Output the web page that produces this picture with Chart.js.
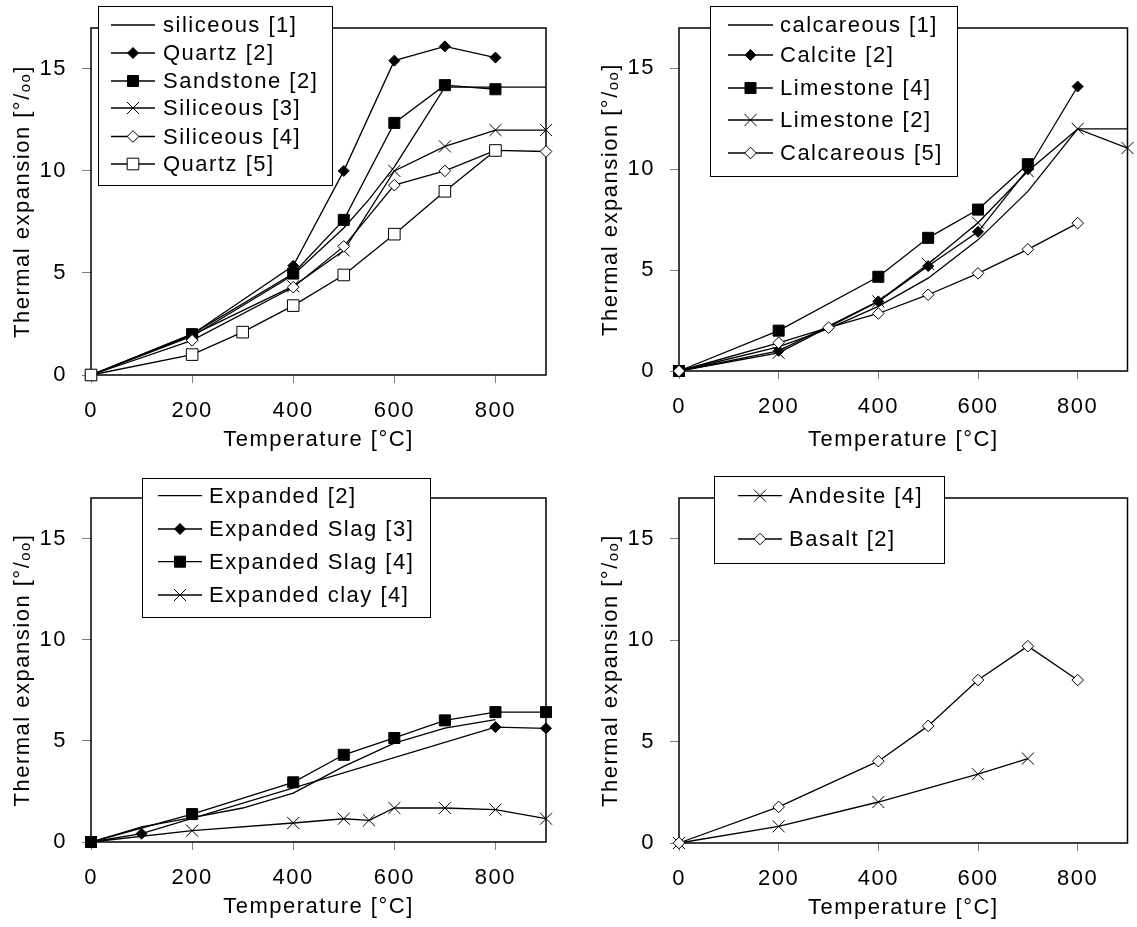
<!DOCTYPE html>
<html>
<head>
<meta charset="utf-8">
<script src="https://cdn.jsdelivr.net/npm/chart.js@4.4.4/dist/chart.umd.min.js"></script>
<style>
  body { margin: 0; background: #fff; }
  #sheet { position: relative; width: 1137px; height: 927px; overflow: hidden; background: #fff; }
  #sheet canvas { position: absolute; }
</style>
</head>
<body>
<div id="sheet">
  <canvas id="siliceous" width="568" height="465" style="left:0;top:0"></canvas>
  <canvas id="calcareous" width="569" height="465" style="left:568px;top:0"></canvas>
  <canvas id="expanded" width="568" height="462" style="left:0;top:465px"></canvas>
  <canvas id="volcanic" width="569" height="462" style="left:568px;top:465px"></canvas>
</div>
<script>
// axis ticks shared by all four panels
const tempTicks = [0, 200, 400, 600, 800];
const expTicks = [0, 5, 10, 15];

// siliceous aggregates
const siliceous1T = [0, 200, 400, 500, 550, 600, 700, 900];
const siliceous1V = [0, 1.9, 4.9, 7.2, 8.6, 10.2, 14.1, 14.1];
const quartz2T = [0, 200, 400, 500, 600, 700, 800];
const quartz2V = [0, 2.0, 5.35, 10.0, 15.4, 16.1, 15.55];
const sandstone2T = [0, 200, 400, 500, 600, 700, 800];
const sandstone2V = [0, 2.0, 4.97, 7.6, 12.35, 14.2, 14.0];
const siliceous3T = [0, 200, 400, 500, 600, 700, 800, 900];
const siliceous3V = [0, 1.95, 4.35, 6.1, 10.0, 11.2, 12.0, 12.0];
const siliceous4T = [0, 200, 400, 500, 600, 700, 800, 900];
const siliceous4V = [0, 1.7, 4.3, 6.3, 9.3, 10.0, 11.0, 10.95];
const quartz5T = [0, 200, 300, 400, 500, 600, 700, 800];
const quartz5V = [0, 1.0, 2.1, 3.4, 4.9, 6.9, 9.0, 11.0];

// calcareous aggregates
const calcareous1T = [0, 200, 300, 400, 500, 600, 700, 800, 900];
const calcareous1V = [0, 1.2, 2.1, 3.2, 4.6, 6.5, 8.9, 12.0, 12.0];
const calcite2T = [0, 200, 400, 500, 600, 700, 800];
const calcite2V = [0, 1.0, 3.45, 5.2, 6.9, 10.0, 14.1];
const limestone4T = [0, 200, 400, 500, 600, 700];
const limestone4V = [0, 2.0, 4.67, 6.6, 8.0, 10.25];
const limestone2T = [0, 200, 400, 500, 600, 700, 800, 900];
const limestone2V = [0, 0.9, 3.45, 5.3, 7.35, 9.9, 12.0, 11.05];
const calcareous5T = [0, 200, 300, 400, 500, 600, 700, 800];
const calcareous5V = [0, 1.4, 2.15, 2.85, 3.78, 4.84, 6.03, 7.33];

// lightweight aggregates
const expanded2T = [0, 100, 200, 300, 400, 500, 600, 700, 800];
const expanded2V = [0, 0.75, 1.2, 1.68, 2.42, 3.74, 4.89, 5.63, 6.05];
const slag3T = [0, 100, 800, 900];
const slag3V = [0, 0.41, 5.68, 5.62];
const slag4T = [0, 200, 400, 500, 600, 700, 800, 900];
const slag4V = [0, 1.38, 2.95, 4.31, 5.14, 6.01, 6.42, 6.42];
const clay4T = [0, 200, 400, 500, 550, 600, 700, 800, 900];
const clay4V = [0, 0.56, 0.94, 1.15, 1.07, 1.68, 1.68, 1.6, 1.15];

// volcanic rocks
const andesite4T = [0, 200, 400, 600, 700];
const andesite4V = [0, 0.82, 2.02, 3.39, 4.16];
const basalt2T = [0, 200, 400, 500, 600, 700, 800];
const basalt2V = [0, 1.78, 4.03, 5.77, 8.03, 9.7, 8.03];

const FONT = { family: '"Liberation Sans", Arial, sans-serif', size: 22 };
const SPACING = '1.5px';

// marker looks, Excel style
const MARKS = {
  line:        { style: false,      r: 0,   fill: '#000' },
  diamond:     { style: 'rectRot',  r: 5.5, fill: '#000' },
  square:      { style: 'rect',     r: 7.8, fill: '#000' },
  cross:       { style: 'crossRot', r: 8.5, fill: '#000' },
  diamondOpen: { style: 'rectRot',  r: 5.8, fill: '#fff' },
  squareOpen:  { style: 'rect',     r: 8.2, fill: '#fff' }
};

function series(label, temps, vals, mark) {
  const m = MARKS[mark];
  return {
    label,
    mark,
    data: temps.map((t, i) => ({ x: t, y: vals[i] })),
    borderColor: '#000',
    borderWidth: 1.3,
    pointStyle: m.style,
    pointRadius: m.r,
    pointBackgroundColor: m.fill,
    pointBorderColor: '#000',
    pointBorderWidth: 1,
    tension: 0,
    clip: false
  };
}

function drawMarker(ctx, mark, x, y) {
  const m = MARKS[mark];
  if (!m.style) return;
  const s = m.r * Math.SQRT1_2;
  ctx.save();
  ctx.fillStyle = m.fill;
  ctx.strokeStyle = '#000';
  ctx.lineWidth = 1;
  ctx.beginPath();
  if (m.style === 'rectRot') {
    ctx.moveTo(x - m.r, y);
    ctx.lineTo(x, y - m.r);
    ctx.lineTo(x + m.r, y);
    ctx.lineTo(x, y + m.r);
    ctx.closePath();
    ctx.fill();
    ctx.stroke();
  } else if (m.style === 'rect') {
    ctx.rect(x - s, y - s, 2 * s, 2 * s);
    ctx.fill();
    ctx.stroke();
  } else {
    ctx.moveTo(x - s, y - s);
    ctx.lineTo(x + s, y + s);
    ctx.moveTo(x + s, y - s);
    ctx.lineTo(x - s, y + s);
    ctx.stroke();
  }
  ctx.restore();
}

// wider tracking of the old plot font
const spacingPlugin = {
  id: 'spacing',
  beforeUpdate(chart) { chart.ctx.letterSpacing = SPACING; },
  beforeDraw(chart) { chart.ctx.letterSpacing = SPACING; }
};

// closed frame around the plot area
const framePlugin = {
  id: 'frame',
  beforeDatasetsDraw(chart) {
    const { ctx, chartArea: a } = chart;
    ctx.save();
    ctx.strokeStyle = '#000';
    ctx.lineWidth = 1.5;
    ctx.strokeRect(a.left, a.top, a.right - a.left, a.bottom - a.top);
    ctx.restore();
  }
};

// boxed legend drawn over the top edge of the frame
function legendPlugin(box) {
  return {
    id: 'boxLegend',
    afterDraw(chart) {
      const ctx = chart.ctx;
      ctx.save();
      ctx.fillStyle = '#fff';
      ctx.fillRect(box.x, box.y, box.w, box.h);
      ctx.strokeStyle = '#000';
      ctx.lineWidth = 1;
      ctx.strokeRect(box.x + 0.5, box.y + 0.5, box.w, box.h);
      ctx.font = FONT.size + 'px ' + FONT.family;
      ctx.letterSpacing = SPACING;
      ctx.textBaseline = 'middle';
      ctx.textAlign = 'left';
      chart.data.datasets.forEach((ds, i) => {
        const y = box.rows[i];
        ctx.strokeStyle = '#000';
        ctx.lineWidth = 1.3;
        ctx.beginPath();
        ctx.moveTo(box.lineX0, y);
        ctx.lineTo(box.lineX1, y);
        ctx.stroke();
        drawMarker(ctx, ds.mark, (box.lineX0 + box.lineX1) / 2, y);
        ctx.fillStyle = '#000';
        ctx.fillText(ds.label, box.textX, y + 1);
      });
      ctx.restore();
    }
  };
}

function makePanel(id, geom, datasets, box) {
  const n = datasets.length;
  datasets.forEach((ds, i) => { ds.order = n - i; });
  return new Chart(document.getElementById(id), {
    type: 'line',
    data: { datasets },
    options: {
      responsive: false,
      animation: false,
      events: [],
      layout: { padding: { left: 0, top: geom.top, right: geom.right, bottom: 0 } },
      plugins: { legend: { display: false }, tooltip: { enabled: false } },
      scales: {
        x: {
          type: 'linear',
          min: 0,
          max: 900,
          afterBuildTicks: s => { s.ticks = tempTicks.map(v => ({ value: v })); },
          afterFit: s => { s.height = geom.xAxisH; },
          ticks: { font: FONT, color: '#000', padding: 15, maxRotation: 0, autoSkip: false },
          grid: { drawOnChartArea: false, drawTicks: true, tickLength: 8, tickColor: '#808080', tickWidth: 1 },
          border: { display: false },
          title: {
            display: true,
            text: 'Temperature [°C]',
            font: FONT,
            color: '#000',
            padding: { top: 0, bottom: geom.xTitlePad }
          }
        },
        y: {
          type: 'linear',
          min: 0,
          max: 17,
          afterBuildTicks: s => { s.ticks = expTicks.map(v => ({ value: v })); },
          afterFit: s => { s.width = geom.yAxisW; },
          ticks: { font: { ...FONT, lineHeight: 1 }, color: '#000', padding: 15, autoSkip: false },
          grid: { drawOnChartArea: false, drawTicks: true, tickLength: 9, tickColor: '#808080', tickWidth: 1 },
          border: { display: false },
          title: {
            display: true,
            text: 'Thermal expansion [°/ₒₒ]',
            font: FONT,
            color: '#000',
            padding: { top: geom.yTitlePad, bottom: 0 }
          }
        }
      }
    },
    plugins: [spacingPlugin, framePlugin, legendPlugin(box)]
  });
}

makePanel('siliceous',
  { top: 28, right: 22, yAxisW: 91, xAxisH: 90, yTitlePad: 9.4, xTitlePad: 12.3 },
  [
    series('siliceous [1]', siliceous1T, siliceous1V, 'line'),
    series('Quartz [2]', quartz2T, quartz2V, 'diamond'),
    series('Sandstone [2]', sandstone2T, sandstone2V, 'square'),
    series('Siliceous [3]', siliceous3T, siliceous3V, 'cross'),
    series('Siliceous [4]', siliceous4T, siliceous4V, 'diamondOpen'),
    series('Quartz [5]', quartz5T, quartz5V, 'squareOpen')
  ],
  { x: 98, y: 6, w: 234, h: 179, rows: [25, 53, 81, 108, 136.5, 164], lineX0: 111, lineX1: 155, textX: 163 });

makePanel('calcareous',
  { top: 28, right: 3, yAxisW: 111, xAxisH: 94, yTitlePad: 29.4, xTitlePad: 12.3 },
  [
    series('calcareous [1]', calcareous1T, calcareous1V, 'line'),
    series('Calcite [2]', calcite2T, calcite2V, 'diamond'),
    series('Limestone [4]', limestone4T, limestone4V, 'square'),
    series('Limestone [2]', limestone2T, limestone2V, 'cross'),
    series('Calcareous [5]', calcareous5T, calcareous5V, 'diamondOpen')
  ],
  { x: 142, y: 6, w: 247, h: 170, rows: [25, 55, 88, 120, 153], lineX0: 160, lineX1: 205, textX: 212 });

makePanel('expanded',
  { top: 33, right: 22, yAxisW: 91, xAxisH: 85, yTitlePad: 9.4, xTitlePad: 7.3 },
  [
    series('Expanded [2]', expanded2T, expanded2V, 'line'),
    series('Expanded Slag [3]', slag3T, slag3V, 'diamond'),
    series('Expanded Slag [4]', slag4T, slag4V, 'square'),
    series('Expanded clay [4]', clay4T, clay4V, 'cross')
  ],
  { x: 142, y: 13, w: 288, h: 139, rows: [30.7, 64, 96.7, 130], lineX0: 158, lineX1: 202, textX: 209 });

makePanel('volcanic',
  { top: 33, right: 3, yAxisW: 111, xAxisH: 84, yTitlePad: 29.4, xTitlePad: 6.3 },
  [
    series('Andesite [4]', andesite4T, andesite4V, 'cross'),
    series('Basalt [2]', basalt2T, basalt2V, 'diamondOpen')
  ],
  { x: 146, y: 11, w: 230, h: 87, rows: [30.7, 74], lineX0: 170, lineX1: 214, textX: 221 });
</script>
</body>
</html>
